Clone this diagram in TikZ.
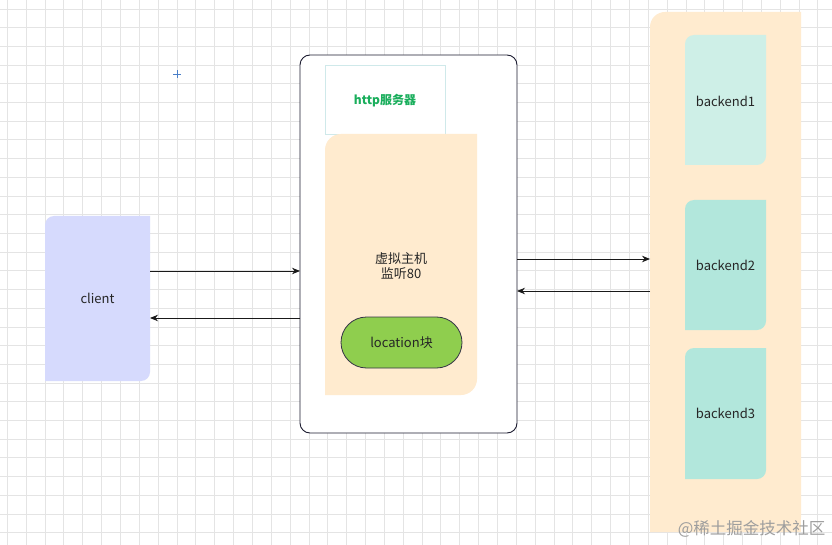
\documentclass[tikz,border=0pt]{standalone}
\usepackage{fontspec}
\setmainfont{Noto Sans CJK SC}
\usetikzlibrary{arrows.meta,shapes.misc}
\definecolor{gridc}{HTML}{E4E4E4}
\definecolor{clientc}{HTML}{D6DAFD}
\definecolor{orangec}{HTML}{FFEBCF}
\definecolor{b1c}{HTML}{CEEFE7}
\definecolor{b2c}{HTML}{B2E7DC}
\definecolor{locc}{HTML}{8FCE4E}
\definecolor{navy}{HTML}{1C1C30}
\definecolor{httpg}{HTML}{1AAE5C}
\definecolor{httpb}{HTML}{CFE9EA}
\definecolor{cursorc}{HTML}{4A7FC8}
\tikzset{
  lbl/.style={font=\fontsize{13}{17}\selectfont, text=black!85, align=center},
  conn/.style={draw=black!90, line width=0.9pt, -{Stealth[length=8pt,width=6.5pt]}},
}
\newcommand{\tlbr}[6]{% color, x1,y1 (top-left), x2,y2 (bottom-right), radius
  \fill[#1] (#2,#5) [rounded corners=#6] -- (#2,#3) [sharp corners] -- (#4,#3) [rounded corners=#6] -- (#4,#5) [sharp corners] -- cycle;}
\begin{document}
\begin{tikzpicture}[x=1pt,y=-1pt]
\useasboundingbox (0,0) rectangle (832,545);
\fill[white] (0,0) rectangle (832,545);
% grid
\foreach \i in {0,...,44} {\draw[gridc, line width=0.8pt] ({7.3+18.85*\i},0) -- ({7.3+18.85*\i},545);}
\foreach \j in {0,...,29} {\draw[gridc, line width=0.8pt] (0,{9+18.7*\j}) -- (832,{9+18.7*\j});}
% cursor mark
\draw[cursorc, line width=0.8pt] (173,74) -- (181,74) (177,70) -- (177,78);
% client
\tlbr{clientc}{45}{216}{150}{381}{9pt}
\node[lbl] (client) at (97.5,298.5) {client};
\coordinate (clientE1) at (150,271);
\coordinate (clientE2) at (150,318);
% server box
\draw[navy, line width=0.9pt, fill=white, rounded corners=10pt] (300,55) rectangle (517,433);
\coordinate (srvW1) at (300,271);
\coordinate (srvW2) at (300,318);
\coordinate (srvE1) at (517,259);
\coordinate (srvE2) at (517,291);
% http box
\draw[httpb, line width=0.6pt] (325,65) rectangle (445,134);
\node[font=\fontsize{12}{15}\selectfont\bfseries, text=httpg] (http) at (385,101) {http服务器};
% vhost
\tlbr{orangec}{325}{134}{477}{395}{16pt}
\node[lbl] (vhost) at (401,266) {虚拟主机\\[-2pt]监听80};
% location
\node[draw=navy!90, line width=0.8pt, fill=locc, rounded rectangle, minimum width=121pt, minimum height=51pt, inner sep=0pt, lbl] (loc) at (401.5,342.5) {location块};
% backend column
\tlbr{orangec}{650}{12}{801}{532}{15pt}
\fill[orangec] (780,520) rectangle (801,532);
\tlbr{b1c}{685}{35}{766}{165}{9pt}
\node[lbl] (b1) at (725.5,101) {backend1};
\tlbr{b2c}{685}{200}{766}{330}{9pt}
\node[lbl] (b2) at (725.5,265.5) {backend2};
\tlbr{b2c}{685}{348}{766}{479}{9pt}
\node[lbl] (b3) at (725.5,413.5) {backend3};
\coordinate (bkW1) at (650,259);
\coordinate (bkW2) at (650,291);
% connectors
\draw[conn] (clientE1) -- (srvW1);
\draw[conn] (srvW2) -- (clientE2);
\draw[conn] (srvE1) -- (bkW1);
\draw[conn] (bkW2) -- (srvE2);
% watermark
\node[anchor=east, font=\fontsize{16.5}{18}\selectfont, text=black!38] (wm) at (829,529) {@稀土掘金技术社区};
\end{tikzpicture}
\end{document}
